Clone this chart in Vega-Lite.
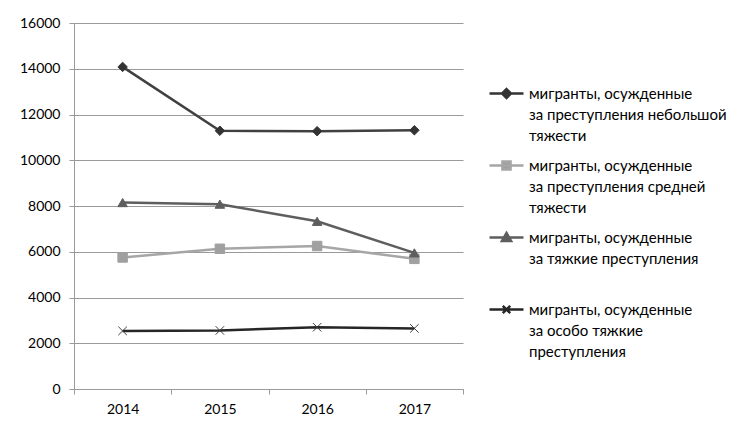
{
  "$schema": "https://vega.github.io/schema/vega-lite/v6.json",
  "width": 389,
  "height": 366,
  "autosize": {"type": "none"},
  "padding": {"left": 74, "top": 23, "right": 270, "bottom": 41},
  "background": "white",
  "config": {
    "font": "Lato",
    "view": {"stroke": null},
    "axis": {
      "labelFont": "Lato",
      "labelFontSize": 14,
      "labelColor": "#000000",
      "domainColor": "#9a9a9a",
      "tickColor": "#9a9a9a",
      "gridColor": "#9a9a9a",
      "domainWidth": 1,
      "tickWidth": 1,
      "gridWidth": 1,
      "tickSize": 5
    }
  },
  "data": {
    "values": [
      {"year": "2014", "k": 1, "s": "мигранты, осужденные\nза преступления небольшой\nтяжести", "value": 14080},
      {"year": "2015", "k": 1, "s": "мигранты, осужденные\nза преступления небольшой\nтяжести", "value": 11290},
      {"year": "2016", "k": 1, "s": "мигранты, осужденные\nза преступления небольшой\nтяжести", "value": 11270},
      {"year": "2017", "k": 1, "s": "мигранты, осужденные\nза преступления небольшой\nтяжести", "value": 11310},
      {"year": "2014", "k": 2, "s": "мигранты, осужденные\nза преступления средней\nтяжести", "value": 5750},
      {"year": "2015", "k": 2, "s": "мигранты, осужденные\nза преступления средней\nтяжести", "value": 6130},
      {"year": "2016", "k": 2, "s": "мигранты, осужденные\nза преступления средней\nтяжести", "value": 6250},
      {"year": "2017", "k": 2, "s": "мигранты, осужденные\nза преступления средней\nтяжести", "value": 5690},
      {"year": "2014", "k": 3, "s": "мигранты, осужденные\nза тяжкие преступления", "value": 8150},
      {"year": "2015", "k": 3, "s": "мигранты, осужденные\nза тяжкие преступления", "value": 8080},
      {"year": "2016", "k": 3, "s": "мигранты, осужденные\nза тяжкие преступления", "value": 7330},
      {"year": "2017", "k": 3, "s": "мигранты, осужденные\nза тяжкие преступления", "value": 5950},
      {"year": "2014", "k": 4, "s": "мигранты, осужденные\nза особо тяжкие\nпреступления", "value": 2540},
      {"year": "2015", "k": 4, "s": "мигранты, осужденные\nза особо тяжкие\nпреступления", "value": 2560},
      {"year": "2016", "k": 4, "s": "мигранты, осужденные\nза особо тяжкие\nпреступления", "value": 2700},
      {"year": "2017", "k": 4, "s": "мигранты, осужденные\nза особо тяжкие\nпреступления", "value": 2650}
    ]
  },
  "encoding": {
    "x": {
      "field": "year",
      "type": "ordinal",
      "scale": {"type": "band", "paddingInner": 0, "paddingOuter": 0},
      "axis": {"title": null, "labelAngle": 0, "tickBand": "extent", "grid": false, "labelPadding": 8}
    },
    "y": {
      "field": "value",
      "type": "quantitative",
      "scale": {"domain": [0, 16000], "nice": false},
      "axis": {
        "title": null,
        "values": [0, 2000, 4000, 6000, 8000, 10000, 12000, 14000, 16000],
        "grid": true,
        "labelPadding": 9,
        "format": "d"
      }
    }
  },
  "layer": [
    {
      "mark": {"type": "line", "strokeWidth": 2.5},
      "encoding": {
        "color": {
          "field": "s", "type": "nominal", "sort": {"field": "k", "op": "min"},
          "scale": {"range": ["#404040", "#a6a6a6", "#5e5e5e", "#262626"]},
          "legend": null
        }
      }
    },
    {
      "mark": {"type": "point", "filled": true, "size": 90, "opacity": 1, "strokeWidth": 1},
      "encoding": {
        "fill": {
          "field": "s", "type": "nominal", "sort": {"field": "k", "op": "min"},
          "scale": {"range": ["#333333", "#a0a0a0", "#5e5e5e", "#404040"]},
          "legend": null
        },
        "stroke": {
          "field": "s", "type": "nominal", "sort": {"field": "k", "op": "min"},
          "scale": {"range": ["#333333", "#a0a0a0", "#5e5e5e", "#404040"]},
          "legend": null
        },
        "shape": {
          "field": "s", "type": "nominal", "sort": {"field": "k", "op": "min"},
          "scale": {"range": ["diamond", "square", "triangle-up", "M-0.9,-0.9L0.9,0.9M-0.9,0.9L0.9,-0.9"]},
          "legend": null
        }
      }
    },
    {
      "mark": {"type": "point", "filled": true, "opacity": 0},
      "encoding": {
        "fill": {
          "field": "s", "type": "nominal", "sort": {"field": "k", "op": "min"},
          "scale": {"range": ["#333333", "#a0a0a0", "#5e5e5e", "#333333"]},
          "legend": {
            "title": null, "orient": "none", "legendX": 414, "legendY": 52, "padding": 0,
            "symbolSize": 1156, "symbolStrokeWidth": 2.5, "labelFontSize": 15, "labelColor": "#000000",
            "labelFont": "Lato", "labelOffset": 4, "rowPadding": 3, "labelLimit": 400,
            "labelExpr": "split(datum.label + (length(split(datum.label, '\\n')) < 3 ? '\\n ' : ''), '\\n')",
            "encode": {"symbols": {"update": {"opacity": {"value": 1}}}, "labels": {"update": {"lineHeight": {"value": 21}}}}
          }
        },
        "stroke": {
          "field": "s", "type": "nominal", "sort": {"field": "k", "op": "min"},
          "scale": {"range": ["#333333", "#a6a6a6", "#5e5e5e", "#262626"]},
          "legend": {
            "title": null, "orient": "none", "legendX": 414, "legendY": 52, "padding": 0,
            "symbolSize": 1156, "symbolStrokeWidth": 2.5, "labelFontSize": 15, "labelColor": "#000000",
            "labelFont": "Lato", "labelOffset": 4, "rowPadding": 3, "labelLimit": 400,
            "labelExpr": "split(datum.label + (length(split(datum.label, '\\n')) < 3 ? '\\n ' : ''), '\\n')",
            "encode": {"symbols": {"update": {"opacity": {"value": 1}}}, "labels": {"update": {"lineHeight": {"value": 21}}}}
          }
        },
        "shape": {
          "field": "s", "type": "nominal", "sort": {"field": "k", "op": "min"},
          "scale": {"range": [
            "M-1,0H1M0,-0.26L0.26,0L0,0.26L-0.26,0Z",
            "M-1,0H1M-0.24,-0.24H0.24V0.24H-0.24Z",
            "M-1,0H1M0,-0.27L0.27,0.2H-0.27Z",
            "M-1,0H1M-0.22,-0.22L0.22,0.22M-0.22,0.22L0.22,-0.22"
          ]},
          "legend": {
            "title": null, "orient": "none", "legendX": 414, "legendY": 52, "padding": 0,
            "symbolSize": 1156, "symbolStrokeWidth": 2.5, "labelFontSize": 15, "labelColor": "#000000",
            "labelFont": "Lato", "labelOffset": 4, "rowPadding": 3, "labelLimit": 400,
            "labelExpr": "split(datum.label + (length(split(datum.label, '\\n')) < 3 ? '\\n ' : ''), '\\n')",
            "encode": {"symbols": {"update": {"opacity": {"value": 1}}}, "labels": {"update": {"lineHeight": {"value": 21}}}}
          }
        }
      }
    }
  ],
  "resolve": {
    "scale": {"color": "independent", "fill": "independent", "stroke": "independent", "shape": "independent"},
    "legend": {"color": "independent", "fill": "independent", "stroke": "independent", "shape": "independent"}
  }
}
